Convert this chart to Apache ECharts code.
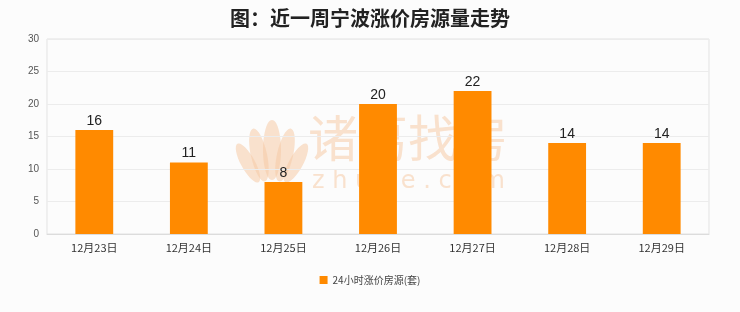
<!DOCTYPE html>
<html>
<head>
<meta charset="utf-8">
<script src="https://cdn.jsdelivr.net/npm/echarts@6/dist/echarts.min.js"></script>
<style>
html,body{margin:0;padding:0;background:#fcfcfc;}
#chart{width:740px;height:312px;}
</style>
</head>
<body>
<div id="chart"></div>
<script>
// Daily counts of listings with a price rise, Ningbo, past week
var categories = ['12月23日', '12月24日', '12月25日', '12月26日', '12月27日', '12月28日', '12月29日'];
var values = [16, 11, 8, 20, 22, 14, 14];
var yTicks = [0, 5, 10, 15, 20, 25, 30];
var seriesName = '24小时涨价房源(套)';
var titleText = '图：近一周宁波涨价房源量走势';

var wmColor = 'rgba(246,203,165,0.55)';
// lotus-style mark beside the brand text
var petals = [
  { x: 272, y: 150, rx: 9, ry: 30, r: 0 },
  { x: 259, y: 155, rx: 8, ry: 27, r: 0.22 },
  { x: 285, y: 155, rx: 8, ry: 27, r: -0.22 },
  { x: 248, y: 163, rx: 7, ry: 22, r: 0.5 },
  { x: 296, y: 163, rx: 7, ry: 22, r: -0.5 }
];

var chart = echarts.init(document.getElementById('chart'));
var graphics = petals.map(function (p) {
  return {
    type: 'ellipse', z: 0, silent: true,
    x: p.x, y: p.y, rotation: p.r,
    shape: { cx: 0, cy: 0, rx: p.rx, ry: p.ry },
    style: { fill: wmColor }
  };
});
graphics.push(
  {
    type: 'text', left: 308, top: 113, z: 0, silent: true,
    style: { text: '诸葛找房', fontSize: 50, fill: wmColor, fontFamily: 'Noto Sans CJK SC', letterSpacing: 2 }
  },
  {
    type: 'text', left: 312, top: 170, z: 0, silent: true,
    style: { text: 'z h u g e . c o m', fontSize: 24, fill: wmColor, fontFamily: 'DejaVu Sans' }
  }
);

chart.setOption({
  backgroundColor: '#fcfcfc',
  animation: false,
  title: {
    text: titleText,
    left: 'center',
    top: 3,
    textStyle: { fontSize: 20, fontWeight: 'bold', color: '#222', fontFamily: 'Noto Sans CJK SC' }
  },
  graphic: graphics,
  legend: {
    bottom: 22,
    left: 'center',
    itemWidth: 8,
    itemHeight: 8,
    icon: 'rect',
    textStyle: { fontSize: 10, color: '#444', fontFamily: 'Noto Sans CJK SC' },
    data: [seriesName]
  },
  grid: {
    left: 47, right: 31, top: 39, bottom: 78,
    show: true, borderColor: '#e3e3e3', borderWidth: 1, backgroundColor: 'transparent'
  },
  xAxis: {
    type: 'category',
    data: categories,
    axisLine: { lineStyle: { color: '#dcdcdc' } },
    axisTick: { show: false },
    axisLabel: { color: '#333', fontSize: 11, margin: 8, fontFamily: 'Noto Sans CJK SC' }
  },
  yAxis: {
    type: 'value',
    min: yTicks[0],
    max: yTicks[yTicks.length - 1],
    interval: yTicks[1] - yTicks[0],
    axisLine: { show: false },
    axisTick: { show: false },
    splitLine: { lineStyle: { color: '#ececec' } },
    axisLabel: { color: '#555', fontSize: 10, margin: 8 }
  },
  series: [{
    name: seriesName,
    type: 'bar',
    data: values,
    barWidth: '40%',
    itemStyle: { color: '#ff8a00' },
    label: { show: true, position: 'top', distance: 2, color: '#222', fontSize: 14 },
    z: 2
  }]
});
</script>
</body>
</html>
